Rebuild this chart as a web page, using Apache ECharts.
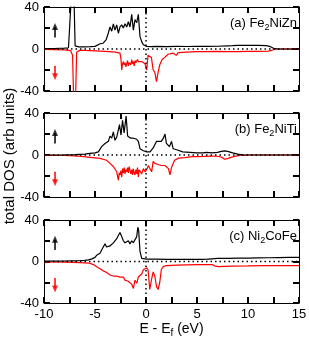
<!DOCTYPE html>
<html><head><meta charset="utf-8">
<script src="https://cdn.jsdelivr.net/npm/echarts@6/dist/echarts.min.js"></script>
<style>html,body{margin:0;padding:0;background:#fff}#c{width:309px;height:342px}</style>
</head><body><div id="c"></div>
<script>
// ---- data (energies in eV, DOS in arb units) ----
const E_aUp = [-10,-9,-8,-7.6,-7.45,-7.35,-7.2,-7.05,-6.95,-6.6,-6,-5.5,-5.0,-4.85,-4.5,-4.2,-3.9,-3.7,-3.53,-3.36,-3.2,-3.04,-2.87,-2.71,-2.55,-2.38,-2.22,-2.06,-1.89,-1.73,-1.57,-1.4,-1.24,-1.08,-0.91,-0.75,-0.59,-0.42,-0.26,0.07,0.5,1,2,3,4,5,6,7,8,8.5,9,10,11,11.8,12.2,12.6,13,14,15];
const dos_aUp = [0.3,0.5,0.8,1.2,3,45,70,45,3,2,2,2.2,2.5,3,5,5.5,9,15,21,17,24,18,23,15,21,23,20,24,21,26,21,33,18,28,25,33,12,7,4,2.5,2.3,2.5,2.3,2.5,2.4,2.5,2.5,2.6,3,3.2,3.5,3.4,3.5,3.2,2.2,0.3,0,0,0];
const E_aDn = [-10,-9,-8,-7.4,-7.2,-7.1,-7.0,-6.9,-6.8,-6.5,-6,-5,-4,-3,-2.55,-2.45,-2.38,-2.3,-2.22,-2.14,-2.06,-1.97,-1.89,-1.81,-1.73,-1.65,-1.57,-1.48,-1.4,-1.32,-1.24,-1.16,-1.08,-0.99,-0.91,-0.83,-0.75,-0.59,-0.42,-0.26,-0.1,0.07,0.2,0.37,0.53,0.7,0.86,1.03,1.19,1.35,1.58,1.84,2.17,2.66,2.97,3.15,4,5,6,7,8,9,10,11,12,12.4,12.7,13,14,15];
const dos_aDn = [-0.5,-0.6,-0.8,-1.5,-6,-45,-70,-45,-3,-1.3,-1.3,-1.8,-2.3,-3,-4,-10,-20,-14,-12,-15,-13,-17,-14,-11,-16,-13,-12,-15,-10,-14,-12,-16,-11,-13,-13,-10,-12,-11,-12,-11,-14,-20,-6,-5,-8,-20,-22,-31,-22,-15,-10,-8,-5,-4,-6,-3.5,-3,-2.5,-2.5,-2.3,-2.5,-2.5,-2.3,-2.2,-2,-1,0,0,0,0];

const E_bUp = [-10,-8,-7,-6,-5.5,-5.0,-4.67,-4.35,-4.02,-3.69,-3.53,-3.36,-3.2,-3.04,-2.87,-2.71,-2.6,-2.45,-2.3,-2.15,-1.95,-1.8,-1.65,-1.5,-1.24,-0.91,-0.75,-0.59,-0.26,0.07,0.4,0.72,0.87,1.04,1.2,1.5,1.7,1.86,2.0,2.3,2.5,2.66,3.0,3.6,4.3,5.0,5.6,5.9,6.5,7.0,7.4,7.7,8.0,8.5,9.0,9.5,10,12,15];
const dos_bUp = [0,0.2,0.4,0.8,1.5,2,3,8,11,13,18,16,22,14,17,24,29,19,33,21,37,18,19,16,16,15,13,6,4,3,3,7,10,13,12,13,16,20,11,8,13,6,5,3,2.5,2,2,2.5,2,2.5,3.5,4,3.5,2,0.8,0.2,0,0,0];
const E_bDn = [-10,-8,-7,-6.1,-5.5,-4.5,-3.86,-3.53,-3.2,-2.87,-2.71,-2.63,-2.55,-2.46,-2.38,-2.3,-2.22,-2.14,-2.06,-1.97,-1.89,-1.81,-1.73,-1.65,-1.57,-1.48,-1.4,-1.32,-1.24,-1.16,-1.08,-0.99,-0.91,-0.83,-0.75,-0.67,-0.59,-0.42,-0.26,-0.1,0.07,0.23,0.4,0.55,0.7,0.87,1.0,1.2,1.5,1.86,2.2,2.35,2.5,2.8,3.2,3.8,4.5,5.1,5.7,6.4,7.0,7.4,7.7,8.0,8.4,8.8,9.2,10,12,15];
const dos_bDn = [-0.3,-0.5,-0.8,-1.6,-2.2,-3.2,-5,-8,-11,-16,-24,-17,-19,-15,-21,-13,-17,-12,-18,-14,-16,-12,-17,-11,-10,-18,-14,-19,-13,-17,-19,-14,-18,-12,-21,-14,-15,-18,-13,-16,-14,-10,-11,-16,-6,-8,-7,-9,-10,-10,-13,-19,-12,-5,-3,-2.5,-1.6,-1.5,-1.3,-1,-1.2,-2,-4,-3.5,-2,-1,-0.3,0,0,0];

const E_cUp = [-10,-8,-6.5,-6.0,-5.65,-5.3,-5.0,-4.84,-4.51,-4.35,-4.19,-4.02,-3.86,-3.69,-3.53,-3.36,-3.2,-3.04,-2.87,-2.71,-2.55,-2.38,-2.22,-2.06,-1.89,-1.73,-1.57,-1.4,-1.24,-1.08,-0.91,-0.8,-0.72,-0.59,-0.42,-0.26,0.07,1,2,3,4,5,5.6,6.0,6.5,7,8,9,10,11,12,13,14,15];
const dos_cUp = [0.3,0.5,0.8,1,1.5,2.5,4,6,8,11,14,17,14,14,15,16,18,17,22,25,28,24,20,18,17,20,17,20,18,19,24,33,30,10,3,2.5,2.3,2.2,2,2,2,2,2,2.2,2.6,3,3,3.2,3.3,3.5,3.6,3.8,4,4];
const E_cDn = [-10,-8,-6.5,-5.55,-5.16,-4.84,-4.51,-4.19,-3.86,-3.53,-3.2,-2.87,-2.55,-2.22,-2.06,-1.89,-1.73,-1.57,-1.4,-1.24,-1.08,-0.91,-0.75,-0.59,-0.42,-0.26,-0.1,0.07,0.2,0.37,0.53,0.7,0.86,1.03,1.19,1.35,1.5,1.68,2.0,3,4,5.2,6.5,6.8,7.1,8.4,10,11.7,13,15];
const dos_cDn = [-0.4,-0.6,-1,-1.6,-3,-5,-7,-9,-10.6,-13,-14,-14,-15,-15,-18,-17,-19,-18,-22,-26,-18,-21,-15,-16,-12,-8,-9,-6,-8,-27,-18,-10,-14,-24,-27,-20,-8,-5,-4,-3.5,-3.2,-3,-3,-4.5,-5,-4.5,-4.3,-4,-4,-4];

const panelLabels = ['{n|(a) Fe}{s|2}{n|NiZn}', '{n|(b) Fe}{s|2}{n|NiTi}', '{n|(c) Ni}{s|2}{n|CoFe}'];
const yTitle = 'total DOS (arb units)';
const xLabelTicks = [-10, -5, 0, 5, 10, 15];
const yLabelTicks = [-40, 0, 40];
// spin arrows (annotation, in data units)
const arrowUpShaft = [[-8.92, 11], [-8.92, 21]];
const arrowUpTip = [-8.92, 21.5];
const arrowDnShaft = [[-8.92, -16], [-8.92, -26]];
const arrowDnTip = [-8.92, -26.5];

// ---- layout ----
const FONT = '"Liberation Sans", Arial, Helvetica, sans-serif';
const XMIN = -10, XMAX = 15, YMIN = -40, YMAX = 40;
const grids = [
  {left: 44, top: 7, width: 255, height: 84, outerBoundsMode: 'none', containLabel: false},
  {left: 44, top: 113, width: 255, height: 84, outerBoundsMode: 'none', containLabel: false},
  {left: 44, top: 220, width: 255, height: 83, outerBoundsMode: 'none', containLabel: false}
];
const panels = [
  {up: [E_aUp, dos_aUp], dn: [E_aDn, dos_aDn]},
  {up: [E_bUp, dos_bUp], dn: [E_bDn, dos_bDn]},
  {up: [E_cUp, dos_cUp], dn: [E_cDn, dos_cDn]}
];
const pairs = (xs, ys) => xs.map((x, i) => [x, ys[i]]);
const axLine = () => ({show: true, onZero: false, lineStyle: {color: '#000', width: 1}});
const tick = () => ({show: true, inside: true, length: 6, lineStyle: {color: '#000', width: 2}});
const richSub = (fs, sfs, pad) => ({
  n: {fontSize: fs, fontFamily: FONT, color: '#000', verticalAlign: 'middle'},
  s: {fontSize: sfs, fontFamily: FONT, color: '#000', verticalAlign: 'bottom', padding: [pad, 0, 0, 0]}
});
const dotted = {color: '#000', width: 1.5, type: [1.5, 3]};

const xAxis = [], yAxis = [], series = [], title = [];
grids.forEach((g, i) => {
  const bottom = {
    type: 'value', gridIndex: i, position: 'bottom', min: XMIN, max: XMAX, interval: 2.5,
    axisLine: axLine(), axisTick: tick(),
    axisLabel: {show: i === 2, color: '#000', fontSize: 13, fontFamily: FONT, margin: 5,
      formatter: v => xLabelTicks.includes(v) ? String(v) : ''},
    splitLine: {show: false}
  };
  if (i === 2) {
    bottom.name = '{n|E - E}{s|f}{n| (eV)}';
    bottom.nameLocation = 'middle';
    bottom.nameGap = 17;
    bottom.nameTextStyle = {rich: richSub(14, 10, 8)};
  }
  xAxis.push(bottom);
  xAxis.push({
    type: 'value', gridIndex: i, position: 'top', min: XMIN, max: XMAX, interval: 2.5,
    axisLine: axLine(), axisTick: tick(),
    axisLabel: {show: false}, splitLine: {show: false}
  });
  yAxis.push({
    type: 'value', gridIndex: i, position: 'left', min: YMIN, max: YMAX, interval: 20,
    axisLine: axLine(), axisTick: tick(),
    axisLabel: {color: '#000', fontSize: 13, fontFamily: FONT, margin: 5,
      formatter: v => yLabelTicks.includes(v) ? String(v) : ''},
    splitLine: {show: false}
  });
  yAxis.push({
    type: 'value', gridIndex: i, position: 'right', min: YMIN, max: YMAX, interval: 20,
    axisLine: axLine(), axisTick: tick(),
    axisLabel: {show: false}, splitLine: {show: false}
  });

  const p = panels[i];
  const ax = {xAxisIndex: 2 * i, yAxisIndex: 2 * i};
  const base = {type: 'line', showSymbol: false, symbol: 'none', clip: true, silent: true};
  // reference lines at E = Ef and DOS = 0
  series.push(Object.assign({}, base, ax, {data: [[XMIN, 0], [XMAX, 0]], z: 4, lineStyle: dotted}));
  series.push(Object.assign({}, base, ax, {data: [[0, YMIN], [0, YMAX]], z: 4, lineStyle: dotted}));
  // spin-down (red) and spin-up (black) DOS
  series.push(Object.assign({}, base, ax, {data: pairs(p.dn[0], p.dn[1]), z: 2,
    lineStyle: {color: '#ff0000', width: 1.2}}));
  series.push(Object.assign({}, base, ax, {data: pairs(p.up[0], p.up[1]), z: 3,
    lineStyle: {color: '#000', width: 1.2}}));
  // spin arrows
  series.push(Object.assign({}, base, ax, {data: arrowUpShaft, z: 5, lineStyle: {color: '#000', width: 1.5}}));
  series.push(Object.assign({}, base, ax, {data: arrowDnShaft, z: 5, lineStyle: {color: '#ff0000', width: 1.5}}));
  series.push(Object.assign({}, ax, {type: 'scatter', silent: true, z: 5, symbol: 'triangle',
    symbolSize: [6, 7], itemStyle: {color: '#000'}, data: [arrowUpTip]}));
  series.push(Object.assign({}, ax, {type: 'scatter', silent: true, z: 5, symbol: 'triangle',
    symbolSize: [6, 7], symbolRotate: 180, itemStyle: {color: '#ff0000'}, data: [arrowDnTip]}));

  title.push({
    text: panelLabels[i], right: 12, top: g.top + 8, padding: 0,
    textStyle: {fontWeight: 'normal', rich: richSub(13, 9, 8)}
  });
});

const chart = echarts.init(document.getElementById('c'), null, {renderer: 'canvas'});
chart.setOption({
  animation: false,
  backgroundColor: '#fff',
  title, grid: grids, xAxis, yAxis, series,
  graphic: [{
    type: 'text', x: 10, y: 156, rotation: Math.PI / 2, silent: true,
    style: {text: yTitle, fontSize: 15, fontFamily: FONT, fill: '#000',
      align: 'center', verticalAlign: 'middle', textAlign: 'center', textVerticalAlign: 'middle'}
  }]
});
</script>
</body></html>
